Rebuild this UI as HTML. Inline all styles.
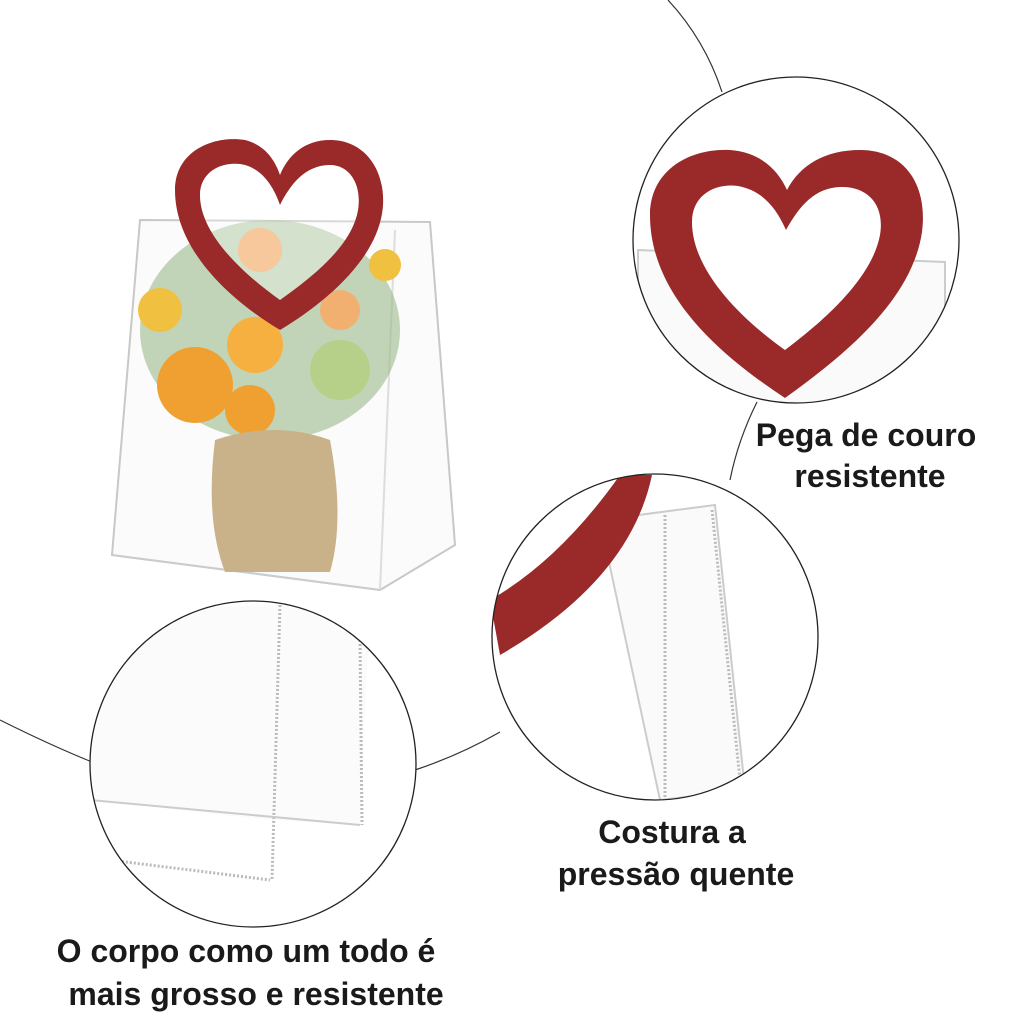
<!DOCTYPE html>
<html><head><meta charset="utf-8"><style>
html,body{margin:0;padding:0;background:#fff;}
svg{display:block}
text{font-family:"Liberation Sans",sans-serif;font-weight:bold;fill:#1a1a1a;font-size:32px}
</style></head><body>
<svg width="1024" height="1024" viewBox="0 0 1024 1024">
<defs>
<clipPath id="c1"><circle cx="796" cy="240" r="163"/></clipPath>
<clipPath id="c2"><circle cx="655" cy="637" r="163"/></clipPath>
<clipPath id="c3"><circle cx="253" cy="764" r="163"/></clipPath>
</defs>
<path d="M668,0 Q705,40 722,92" fill="none" stroke="#333" stroke-width="1.2"/>
<path d="M757,402 Q738,440 730,480" fill="none" stroke="#333" stroke-width="1.2"/>
<path d="M0,720 Q50,745 92,762" fill="none" stroke="#333" stroke-width="1.2"/>
<path d="M415,770 Q460,755 500,732" fill="none" stroke="#333" stroke-width="1.2"/>

<g>
<polygon points="112,555 140,220 430,222 455,545 380,590" fill="#fbfbfb" stroke="#c8c8c8" stroke-width="2"/>
<line x1="380" y1="590" x2="395" y2="230" stroke="#ddd" stroke-width="2"/>
<line x1="112" y1="555" x2="380" y2="590" stroke="#ccc" stroke-width="2"/>
<ellipse cx="270" cy="330" rx="130" ry="110" fill="#9dbb8a" opacity="0.6"/>
<circle cx="195" cy="385" r="38" fill="#f0a030"/>
<circle cx="250" cy="410" r="25" fill="#f0a030"/>
<circle cx="255" cy="345" r="28" fill="#f5b040"/>
<circle cx="160" cy="310" r="22" fill="#f0c040"/>
<circle cx="260" cy="250" r="22" fill="#f2b070"/>
<circle cx="340" cy="310" r="20" fill="#f2b070"/>
<circle cx="340" cy="370" r="30" fill="#b6d08a"/>
<circle cx="385" cy="265" r="16" fill="#f0c040"/>
<path d="M215,440 Q275,420 330,440 Q345,520 330,572 L225,572 Q205,520 215,440Z" fill="#c9b28a"/>
<path fill-rule="evenodd" d="M280,330 C230,300 175,250 175,190 C175,150 215,135 245,140 C265,145 275,160 280,175 C288,155 305,140 330,140 C365,140 385,170 383,205 C380,255 330,300 280,330Z M280,300 C245,275 200,235 200,195 C200,170 225,160 245,165 C262,170 273,185 280,205 C290,185 305,165 330,165 C350,165 362,185 358,210 C352,245 315,275 280,300Z" fill="#9a2a2a"/>
<path d="M280,300 C245,275 200,235 200,195 C200,170 225,160 245,165 C262,170 273,185 280,205 C290,185 305,165 330,165 C350,165 362,185 358,210 C352,245 315,275 280,300Z" fill="#ffffff" opacity="0.3"/>
</g>

<g clip-path="url(#c1)">
<rect x="630" y="77" width="330" height="330" fill="#fff"/>
<polygon points="638,250 945,262 945,420 638,420" fill="#fafafa" stroke="#ccc" stroke-width="2"/>
<path d="M785,398 C720,355 650,295 650,215 C650,170 690,148 730,150 C760,152 778,170 787,190 C800,165 825,150 860,150 C905,150 928,185 922,232 C912,300 845,355 785,398Z" fill="#9a2a2a"/>
<path d="M785,350 C740,318 692,270 692,222 C692,195 715,183 738,186 C760,190 775,205 786,230 C800,205 815,188 840,187 C868,186 885,205 880,235 C872,278 825,320 785,350Z" fill="#fff"/>
</g>
<circle cx="796" cy="240" r="163" fill="none" stroke="#222" stroke-width="1.3"/>

<g clip-path="url(#c2)">
<rect x="490" y="472" width="330" height="330" fill="#fff"/>
<polygon points="600,520 715,505 745,790 660,800" fill="#fafafa" stroke="#ccc" stroke-width="2"/>
<line x1="665" y1="515" x2="665" y2="800" stroke="#bbb" stroke-width="3" stroke-dasharray="2,2"/>
<line x1="712" y1="510" x2="740" y2="780" stroke="#bbb" stroke-width="3" stroke-dasharray="2,2"/>
<path d="M490,600 Q560,560 620,475 L652,475 Q630,580 500,655 Z" fill="#9a2a2a"/>
</g>
<circle cx="655" cy="637" r="163" fill="none" stroke="#222" stroke-width="1.3"/>

<g clip-path="url(#c3)">
<rect x="90" y="601" width="330" height="330" fill="#fff"/>
<polygon points="90,800 270,820 360,825 370,610 280,605 90,610" fill="#fbfbfb"/>
<line x1="280" y1="605" x2="272" y2="880" stroke="#bbb" stroke-width="3" stroke-dasharray="2,2"/>
<line x1="360" y1="640" x2="362" y2="825" stroke="#bbb" stroke-width="3" stroke-dasharray="2,2"/>
<line x1="110" y1="860" x2="270" y2="880" stroke="#bbb" stroke-width="3" stroke-dasharray="2,2"/>
<line x1="90" y1="800" x2="360" y2="825" stroke="#ccc" stroke-width="2"/>
</g>
<circle cx="253" cy="764" r="163" fill="none" stroke="#222" stroke-width="1.3"/>

<text x="866" y="446" text-anchor="middle">Pega de couro</text>
<text x="870" y="487" text-anchor="middle">resistente</text>
<text x="672" y="843" text-anchor="middle">Costura a</text>
<text x="676" y="885" text-anchor="middle">pressão quente</text>
<text x="246" y="962" text-anchor="middle">O corpo como um todo é</text>
<text x="256" y="1005" text-anchor="middle">mais grosso e resistente</text>
</svg>
</body></html>
